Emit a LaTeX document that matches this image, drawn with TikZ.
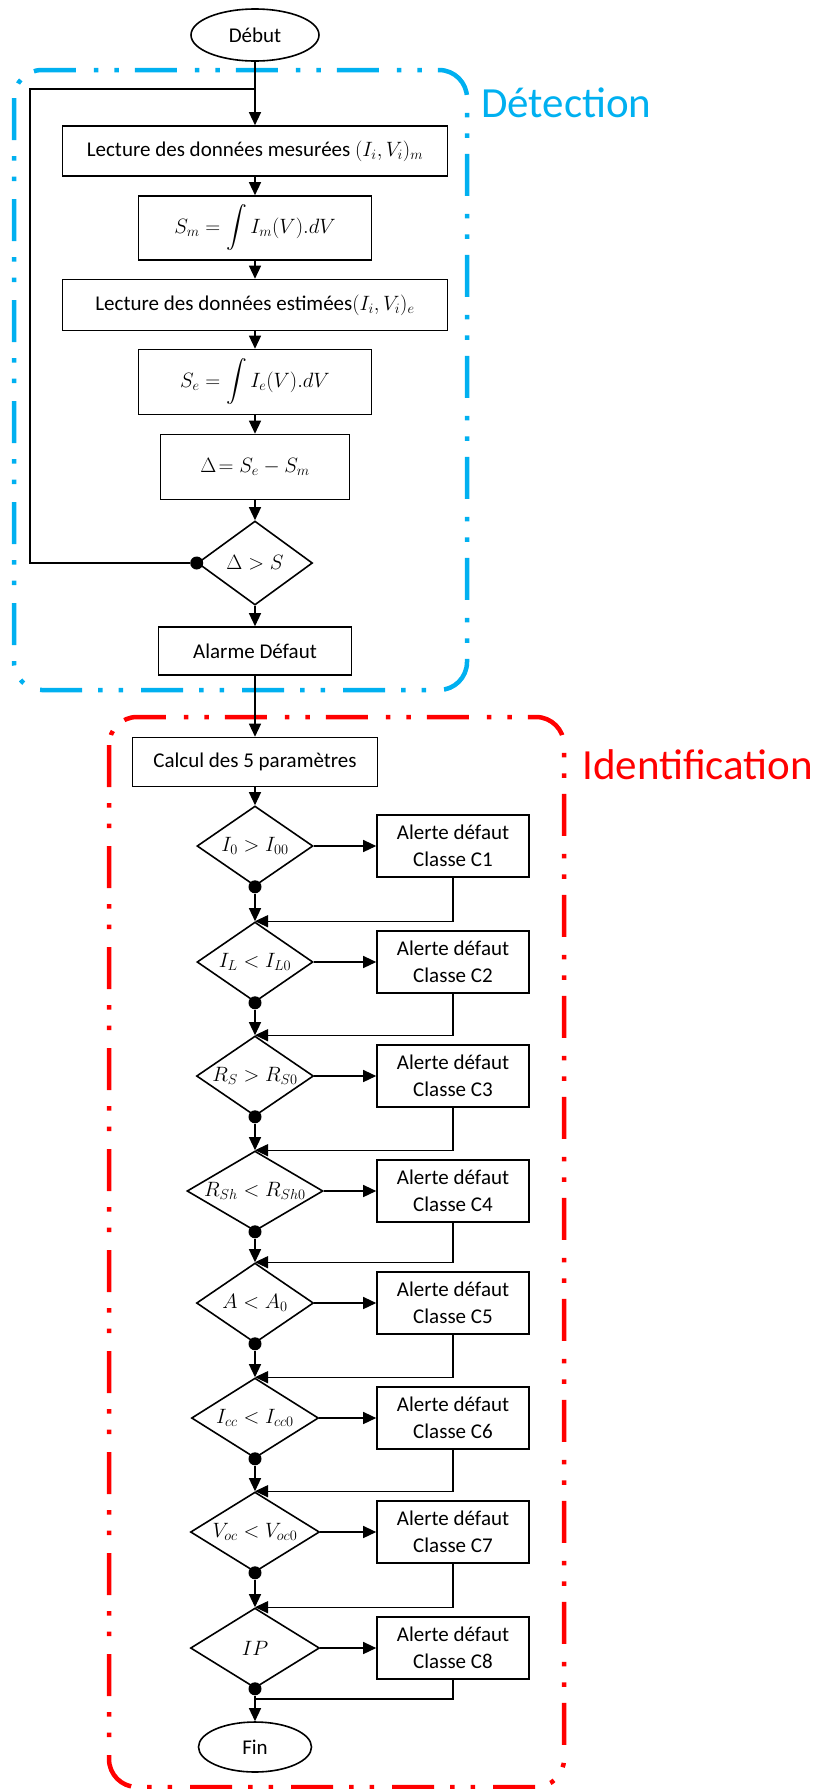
\documentclass[tikz,border=0pt]{standalone}
\usepackage{amsmath}
\usepackage[no-math]{fontspec}
\setmainfont{Carlito}
\usepackage{tikz}
\usetikzlibrary{shapes.geometric, arrows.meta}

\definecolor{detblue}{RGB}{0,176,240}
\definecolor{identred}{RGB}{255,0,0}

\begin{document}
\begin{tikzpicture}[x=1pt, y=-1pt,
    every node/.style={font=\fontsize{21}{27}\selectfont},
    box/.style={draw, line width=1.6pt, inner sep=0pt, align=center},
    alertbox/.style={box, minimum width=152pt, minimum height=62pt},
    decision/.style={diamond, draw, line width=1.6pt, inner sep=0pt, minimum height=80pt},
    terminal/.style={ellipse, draw, line width=1.6pt, inner sep=0pt},
    junction/.style={circle, fill, inner sep=0pt, minimum size=13pt},
    flow/.style={line width=1.3pt, -{Triangle[length=13pt, width=12pt]}},
    link/.style={line width=1.3pt},
    zone/.style={line width=4.5pt, rounded corners=28pt,
        dash pattern=on 42pt off 16pt on 4.5pt off 16pt on 4.5pt off 18pt},
    zonetitle/.style={anchor=west, inner sep=0pt, font=\fontsize{43}{50}\selectfont}]

    \useasboundingbox (0,0) rectangle (822,1789);

    \draw[zone, detblue] (14,70) rectangle (467,690);
    \draw[zone, identred] (109,717) rectangle (564,1787);
    \node[zonetitle, text=detblue] (detection) at (481,103) {Détection};
    \node[zonetitle, text=identred] (identification) at (582,765) {Identification};

    \node[terminal, minimum width=128pt, minimum height=52pt] (debut) at (255,35) {Début};
    \node[box, minimum width=385pt, minimum height=50pt] (lectm) at (255,151) {Lecture des données mesurées $(I_i,V_i)_m$};
    \node[box, minimum width=233pt, minimum height=64pt] (intm) at (255,228) {$S_m = \displaystyle\int I_m(V).dV$};
    \node[box, minimum width=385pt, minimum height=51pt] (lecte) at (255,305) {Lecture des données estimées$(I_i,V_i)_e$};
    \node[box, minimum width=233pt, minimum height=65pt] (inte) at (255,382) {$S_e = \displaystyle\int I_e(V).dV$};
    \node[box, minimum width=189pt, minimum height=65pt] (delta) at (255,467) {$\Delta\!= S_e - S_m$};
    \node[decision, minimum width=115pt, minimum height=84pt, label=center:{$\Delta > S$}] (test) at (255,563) {};
    \node[box, minimum width=193pt, minimum height=48pt] (alarme) at (255,651) {Alarme Défaut};
    \node[box, minimum width=245pt, minimum height=49pt] (calcul) at (255,762) {Calcul des 5 paramètres};

    \node[decision, minimum width=116pt, label=center:{$I_0 > I_{00}$}] (d1) at (255,846) {};
    \node[decision, minimum width=116pt, label=center:{$I_L < I_{L0}$}] (d2) at (255,962) {};
    \node[decision, minimum width=117pt, label=center:{$R_S > R_{S0}$}] (d3) at (255,1076) {};
    \node[decision, minimum width=136pt, label=center:{$R_{Sh} < R_{Sh0}$}] (d4) at (255,1191) {};
    \node[decision, minimum width=117pt, label=center:{$A < A_0$}] (d5) at (255,1303) {};
    \node[decision, minimum width=127pt, label=center:{$I_{cc} < I_{cc0}$}] (d6) at (255,1418) {};
    \node[decision, minimum width=129pt, label=center:{$V_{oc} < V_{oc0}$}] (d7) at (255,1532) {};
    \node[decision, minimum width=129pt, label=center:{$IP$}] (d8) at (255,1648) {};

    \node[alertbox] (c1) at (453,846) {Alerte défaut\\Classe C1};
    \node[alertbox] (c2) at (453,962) {Alerte défaut\\Classe C2};
    \node[alertbox] (c3) at (453,1076) {Alerte défaut\\Classe C3};
    \node[alertbox] (c4) at (453,1191) {Alerte défaut\\Classe C4};
    \node[alertbox] (c5) at (453,1303) {Alerte défaut\\Classe C5};
    \node[alertbox] (c6) at (453,1418) {Alerte défaut\\Classe C6};
    \node[alertbox] (c7) at (453,1532) {Alerte défaut\\Classe C7};
    \node[alertbox] (c8) at (453,1648) {Alerte défaut\\Classe C8};

    \node[terminal, minimum width=113pt, minimum height=50pt] (fin) at (255,1747) {Fin};

    \node[junction] (jt) at (test.west) {};
    \node[junction] (j1) at (d1.south) {};
    \node[junction] (j2) at (d2.south) {};
    \node[junction] (j3) at (d3.south) {};
    \node[junction] (j4) at (d4.south) {};
    \node[junction] (j5) at (d5.south) {};
    \node[junction] (j6) at (d6.south) {};
    \node[junction] (j7) at (d7.south) {};
    \node[junction] (j8) at (d8.south) {};

    \coordinate (loop) at (30,89);
    \coordinate (join) at (255,89);
    \coordinate (merge) at (255,1699);

    \draw[flow] (debut) -- (lectm);
    \draw[link, line width=2pt] (jt) -| (loop) -- (join);
    \draw[flow] (lectm) -- (intm);
    \draw[flow] (intm) -- (lecte);
    \draw[flow] (lecte) -- (inte);
    \draw[flow] (inte) -- (delta);
    \draw[flow] (delta) -- (test);
    \draw[flow] (test) -- (alarme);
    \draw[flow] (alarme) -- (calcul);
    \draw[flow] (calcul) -- (d1);

    \draw[flow] (d1.east) -- (c1.west);
    \draw[flow] (d2.east) -- (c2.west);
    \draw[flow] (d3.east) -- (c3.west);
    \draw[flow] (d4.east) -- (c4.west);
    \draw[flow] (d5.east) -- (c5.west);
    \draw[flow] (d6.east) -- (c6.west);
    \draw[flow] (d7.east) -- (c7.west);
    \draw[flow] (d8.east) -- (c8.west);

    \draw[flow] (j1) -- (d2.north);
    \draw[flow] (j2) -- (d3.north);
    \draw[flow] (j3) -- (d4.north);
    \draw[flow] (j4) -- (d5.north);
    \draw[flow] (j5) -- (d6.north);
    \draw[flow] (j6) -- (d7.north);
    \draw[flow] (j7) -- (d8.north);
    \draw[flow] (j8) -- (fin);

    \draw[flow] (c1.south) |- (d2.north);
    \draw[flow] (c2.south) |- (d3.north);
    \draw[flow] (c3.south) |- (d4.north);
    \draw[flow] (c4.south) |- (d5.north);
    \draw[flow] (c5.south) |- (d6.north);
    \draw[flow] (c6.south) |- (d7.north);
    \draw[flow] (c7.south) |- (d8.north);
    \draw[link] (c8.south) |- (merge);
\end{tikzpicture}
\end{document}
